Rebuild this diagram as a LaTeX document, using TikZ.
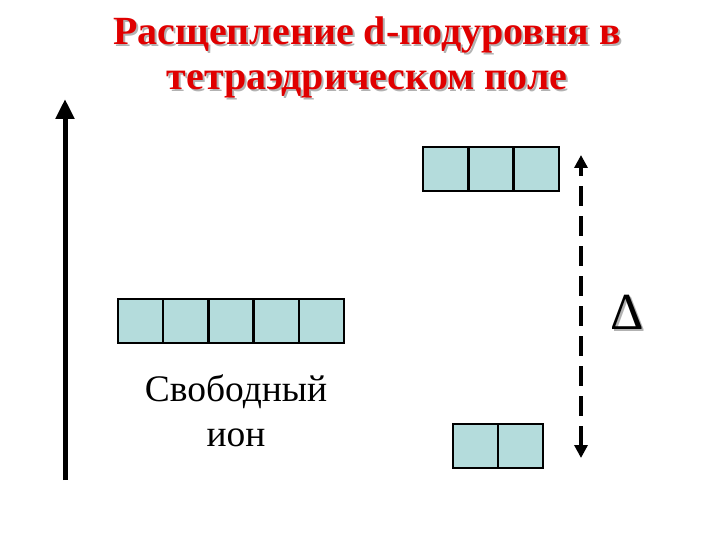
\documentclass[tikz,border=0pt]{standalone}
\usepackage{fontspec}
\setmainfont{Liberation Serif}
\usetikzlibrary{arrows.meta}
\definecolor{boxfill}{HTML}{B4DCDC}
\definecolor{titlered}{HTML}{E00000}
\tikzset{
  cell/.style={draw=black, line width=2.2pt, fill=boxfill, minimum width=45pt, minimum height=44pt, inner sep=0pt, anchor=north west},
  titletext/.style={font=\fontsize{40}{45}\selectfont\bfseries, text=titlered, align=center},
  shadowtext/.style={font=\fontsize{40}{45}\selectfont\bfseries, text=black!30, align=center},
  labeltext/.style={font=\fontsize{37.5}{45}\selectfont, align=center},
  deltatext/.style={font=\fontsize{52}{56}\selectfont}
}
\begin{document}
\begin{tikzpicture}[x=1pt,y=-1pt]
\useasboundingbox (0,0) rectangle (720,540);
% title
\node[shadowtext] at (369,59) {Расщепление d-подуровня в\\тетраэдрическом поле};
\node[titletext] (title) at (367,57) {Расщепление d-подуровня в\\тетраэдрическом поле};
% energy axis
\coordinate (ebot) at (65,480);
\coordinate (etop) at (65,99);
\draw[line width=5pt, -{Triangle[length=20pt,width=18pt]}] (ebot) -- (etop);
% five boxes
\foreach \i in {0,...,4} {
  \node[cell] (f\i) at (117+45.2*\i,298) {};
}
% three boxes
\foreach \i in {0,...,2} {
  \node[cell] (t\i) at (422+45.3*\i,146) {};
}
% two boxes
\foreach \i in {0,...,1} {
  \node[cell] (e\i) at (452+45*\i,423) {};
}
% label
\node[labeltext] (free) at (236,411) {Свободный\\ион};
% delta arrow
\coordinate (dtop) at (581,155);
\coordinate (dbot) at (581,458);
\draw[line width=4pt, dash pattern=on 20pt off 10pt, {Triangle[length=13pt,width=13pt]}-{Triangle[length=13pt,width=13pt]}] (dbot) -- (dtop);
\node[deltatext, text=black!30] at (629,314) {Δ};
\node[deltatext] (delta) at (627,312) {Δ};
\end{tikzpicture}
\end{document}
